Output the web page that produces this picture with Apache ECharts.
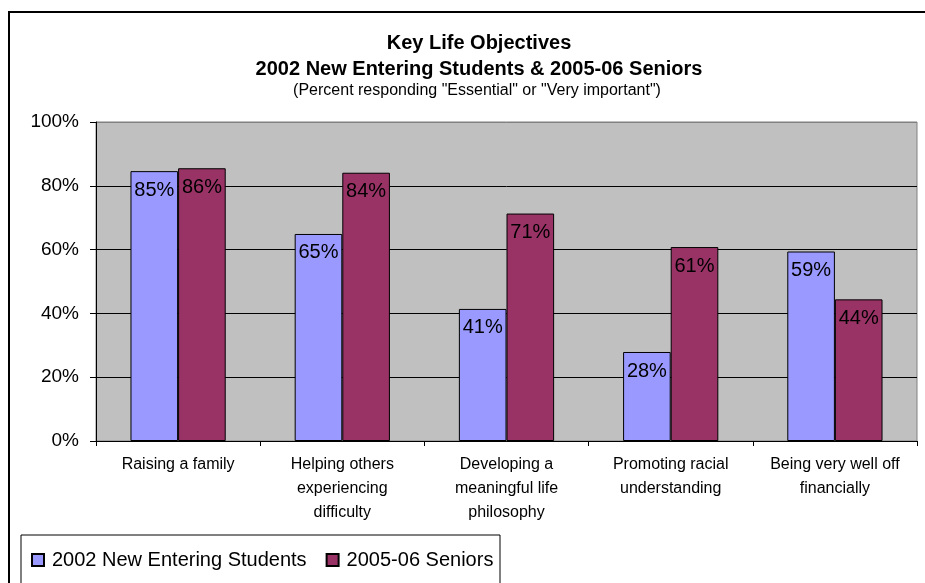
<!DOCTYPE html>
<html>
<head>
<meta charset="utf-8">
<script src="https://cdn.jsdelivr.net/npm/echarts@6/dist/echarts.min.js"></script>
<style>
html,body{margin:0;padding:0;background:#fff;}
#chart{width:925px;height:583px;}
</style>
</head>
<body>
<div id="chart"></div>
<script>
var categories = ['Raising a family', 'Helping others\nexperiencing\ndifficulty', 'Developing a\nmeaningful life\nphilosophy', 'Promoting racial\nunderstanding', 'Being very well off\nfinancially'];
var seriesNames = ['2002 New Entering Students', '2005-06 Seniors'];
var students2002 = [84.6, 64.9, 41.4, 27.9, 59.4];
var seniors2005 = [85.5, 84.1, 71.3, 60.8, 44.4];
var yTicks = [0, 20, 40, 60, 80, 100];

var FONT = '"Liberation Sans", Arial, sans-serif';
var chart = echarts.init(document.getElementById('chart'));

function labelCfg() {
  return {
    show: true, position: 'insideTop', distance: 9, color: '#000',
    fontFamily: FONT, fontSize: 20,
    formatter: function (p) { return Math.round(p.value) + '%'; }
  };
}

chart.setOption({
  backgroundColor: '#fff',
  animation: false,
  textStyle: { fontFamily: FONT },
  title: [
    { text: 'Key Life Objectives', left: 474, top: 28, textAlign: 'center',
      textStyle: { fontFamily: FONT, fontSize: 20, fontWeight: 'bold', color: '#000' } },
    { text: '2002 New Entering Students & 2005-06 Seniors', left: 474, top: 54, textAlign: 'center',
      textStyle: { fontFamily: FONT, fontSize: 20, fontWeight: 'bold', color: '#000' } },
    { text: '(Percent responding "Essential" or "Very important")', left: 472, top: 78, textAlign: 'center',
      textStyle: { fontFamily: FONT, fontSize: 16, fontWeight: 'normal', color: '#000' } }
  ],
  graphic: [
    { type: 'rect', z: -10, shape: { x: 9, y: 12, width: 1000, height: 1000 },
      style: { fill: 'none', stroke: '#000', lineWidth: 2 } },
    { type: 'rect', z: -5, shape: { x: 21, y: 535, width: 479, height: 100 },
      style: { fill: '#fff', stroke: '#000', lineWidth: 1 } }
  ],
  legend: {
    left: 31, top: 550, padding: 0, itemGap: 19, itemWidth: 12, itemHeight: 12,
    icon: 'rect',
    textStyle: { fontFamily: FONT, fontSize: 20, color: '#000', padding: [0, 0, 0, 3] },
    data: seriesNames
  },
  grid: {
    left: 96, top: 122, right: 8, bottom: 142, containLabel: false,
    show: true, backgroundColor: '#C0C0C0', borderColor: '#808080', borderWidth: 1
  },
  xAxis: {
    type: 'category', data: categories,
    axisLine: { show: true, lineStyle: { color: '#000', width: 1 } },
    axisTick: { show: true, alignWithLabel: false, length: 5, lineStyle: { color: '#000' } },
    axisLabel: { interval: 0, color: '#000', fontFamily: FONT, fontSize: 16, lineHeight: 24, margin: 12 },
    splitLine: { show: false }
  },
  yAxis: {
    type: 'value', min: yTicks[0], max: yTicks[yTicks.length - 1], interval: 20,
    axisLine: { show: true, lineStyle: { color: '#000', width: 1 } },
    axisTick: { show: true, length: 6, lineStyle: { color: '#000' } },
    axisLabel: { color: '#000', fontFamily: FONT, fontSize: 19, margin: 17, formatter: '{value}%' },
    splitLine: { show: true, lineStyle: { color: ['#000', '#000', '#000', '#000', '#000', '#808080'], width: 1 } }
  },
  series: [
    { name: seriesNames[0], type: 'bar', data: students2002, barGap: '0%', barCategoryGap: '42%',
      itemStyle: { color: '#9999FF', borderColor: '#000', borderWidth: 1 }, label: labelCfg() },
    { name: seriesNames[1], type: 'bar', data: seniors2005, barGap: '0%', barCategoryGap: '42%',
      itemStyle: { color: '#993366', borderColor: '#000', borderWidth: 1 }, label: labelCfg() }
  ]
});
</script>
</body>
</html>
